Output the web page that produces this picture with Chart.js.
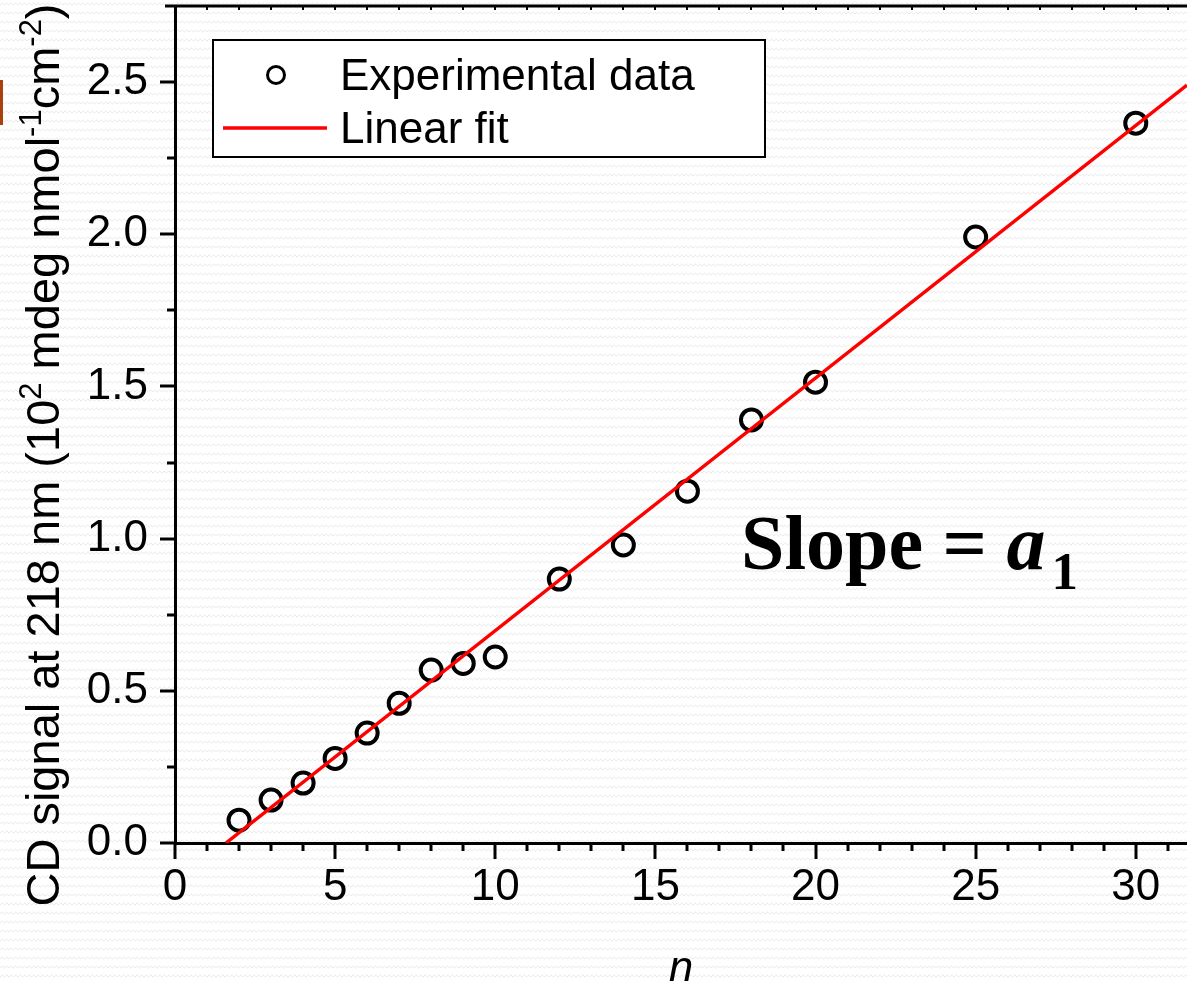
<!DOCTYPE html>
<html>
<head>
<meta charset="utf-8">
<script src="https://cdn.jsdelivr.net/npm/chart.js@4/dist/chart.umd.min.js"></script>
<style>
  html, body { margin: 0; padding: 0; }
  body {
    width: 1187px; height: 981px; overflow: hidden; position: relative;
    background-color: #fff;
    background-image: url("data:image/svg+xml;utf8,<svg xmlns='http://www.w3.org/2000/svg' width='9' height='9'><path d='M0 5 L2.25 3 L4.5 5 L6.75 3 L9 5' fill='none' stroke='%23e9e9e9' stroke-width='1'/></svg>");
  }
  #wrap { position: absolute; left: 0; top: 0; width: 1187px; height: 981px; }
  #tab { position: absolute; left: 0; top: 80px; width: 3px; height: 45px; background: #a8410c; }
</style>
</head>
<body>
<div id="tab"></div>
<div id="wrap"><canvas id="cd-chart"></canvas></div>
<script>
// values
const nValues = [2, 3, 4, 5, 6, 7, 8, 9, 10, 12, 14, 16, 18, 20, 25, 30];
const cdSignal = [0.075, 0.141, 0.197, 0.278, 0.361, 0.459, 0.568, 0.590, 0.611, 0.867, 0.979, 1.156, 1.390, 1.514, 1.991, 2.365];
const fitX = [1.59, 31.6];
const fitY = [0, 2.49];
const xTicks = [0, 5, 10, 15, 20, 25, 30];
const yTicks = [0.0, 0.5, 1.0, 1.5, 2.0, 2.5];

const sans = "'Liberation Sans', Arial, Helvetica, sans-serif";
const serif = "'Liberation Serif', 'Times New Roman', serif";

// no extra room for overhanging labels
function noPad(s) {
    s.paddingTop = 0;
    s.paddingBottom = 0;
    s.paddingLeft = 0;
    s.paddingRight = 0;
}

// minor/major tick marks, top frame line
const tickMarks = {
    id: 'tickMarks',
    afterDraw(chart) {
        const ctx = chart.ctx;
        const area = chart.chartArea;
        const xs = chart.scales.x;
        const ys = chart.scales.y;
        ctx.save();
        ctx.strokeStyle = '#000';
        ctx.lineWidth = 3;
        ctx.lineCap = 'butt';
        xs.ticks.forEach(t => {
            const px = Math.round(xs.getPixelForValue(t.value));
            const len = xTicks.includes(t.value) ? 16 : 8;
            ctx.beginPath();
            ctx.moveTo(px, area.bottom);
            ctx.lineTo(px, area.bottom + len);
            ctx.stroke();
            ctx.beginPath();
            ctx.lineWidth = 2;
            ctx.moveTo(px, area.top);
            ctx.lineTo(px, area.top + 4);
            ctx.stroke();
            ctx.lineWidth = 3;
        });
        ys.ticks.forEach(t => {
            const py = Math.round(ys.getPixelForValue(t.value));
            if (t.value > 2.7) return;
            const len = yTicks.some(v => Math.abs(v - t.value) < 1e-6) ? 15 : 8;
            ctx.beginPath();
            ctx.moveTo(area.left, py);
            ctx.lineTo(area.left - len, py);
            ctx.stroke();
        });
        // top frame
        ctx.beginPath();
        ctx.moveTo(area.left - 10, area.top);
        ctx.lineTo(area.right, area.top);
        ctx.stroke();
        ctx.restore();
    }
};

// boxed legend in the upper left corner
const boxLegend = {
    id: 'boxLegend',
    afterDraw(chart) {
        const ctx = chart.ctx;
        const area = chart.chartArea;
        const ds = chart.data.datasets;
        const bx = area.left + 38, by = area.top + 34, bw = 552, bh = 117;
        ctx.save();
        ctx.fillStyle = '#fff';
        ctx.fillRect(bx, by, bw, bh);
        ctx.strokeStyle = '#000';
        ctx.lineWidth = 2;
        ctx.strokeRect(bx, by, bw, bh);

        ctx.beginPath();
        ctx.lineWidth = 3;
        ctx.arc(bx + 63, by + 35, 8.5, 0, Math.PI * 2);
        ctx.stroke();

        ctx.beginPath();
        ctx.strokeStyle = ds[1].borderColor;
        ctx.lineWidth = 3.5;
        ctx.moveTo(bx + 10, by + 88);
        ctx.lineTo(bx + 114, by + 88);
        ctx.stroke();

        ctx.fillStyle = '#000';
        ctx.font = '44px ' + sans;
        ctx.textBaseline = 'alphabetic';
        ctx.fillText(ds[0].label, bx + 127, by + 50);
        ctx.fillText(ds[1].label, bx + 127, by + 103);
        ctx.restore();
    }
};

// rotated y title with superscripts, and the slope note
const extraText = {
    id: 'extraText',
    afterDraw(chart) {
        const ctx = chart.ctx;
        const parts = [
            ['CD signal at 218 nm (10', 0],
            ['2', 1],
            [' mdeg nmol', 0],
            ['-1', 1],
            ['cm', 0],
            ['-2', 1],
            [')', 0]
        ];
        const big = '47px ' + sans, small = '31px ' + sans;
        ctx.save();
        let total = 0;
        parts.forEach(p => { ctx.font = p[1] ? small : big; total += ctx.measureText(p[0]).width; });
        ctx.translate(59, 455);
        ctx.rotate(-Math.PI / 2);
        ctx.fillStyle = '#000';
        ctx.textBaseline = 'alphabetic';
        let x = -total / 2;
        parts.forEach(p => {
            ctx.font = p[1] ? small : big;
            ctx.fillText(p[0], x, p[1] ? -18 : 0);
            x += ctx.measureText(p[0]).width;
        });
        ctx.restore();

        ctx.save();
        ctx.fillStyle = '#000';
        ctx.textBaseline = 'alphabetic';
        let sx = 741;
        const base = 569;
        ctx.font = 'bold 78px ' + serif;
        ctx.fillText('Slope = ', sx, base);
        sx += ctx.measureText('Slope = ').width;
        ctx.font = 'italic bold 78px ' + serif;
        ctx.fillText('a', sx, base);
        sx += ctx.measureText('a').width + 6;
        ctx.font = 'bold 53px ' + serif;
        ctx.fillText('1', sx, base + 20);
        ctx.restore();
    }
};

const ctx = document.getElementById('cd-chart').getContext('2d');
new Chart(ctx, {
    type: 'scatter',
    data: {
        datasets: [{
            label: 'Experimental data',
            data: nValues.map((n, i) => ({ x: n, y: cdSignal[i] })),
            pointStyle: 'circle',
            pointRadius: 10.5,
            pointHoverRadius: 10.5,
            borderWidth: 4,
            borderColor: '#000',
            backgroundColor: 'rgba(0,0,0,0)',
            order: 2
        }, {
            label: 'Linear fit',
            data: fitX.map((x, i) => ({ x: x, y: fitY[i] })),
            showLine: true,
            pointRadius: 0,
            borderColor: '#ff0000',
            borderWidth: 3.5,
            order: 1
        }]
    },
    options: {
        responsive: true,
        maintainAspectRatio: false,
        animation: false,
        layout: { autoPadding: false, padding: { top: 6, right: 0, left: 0, bottom: 0 } },
        scales: {
            x: {
                type: 'linear',
                min: 0,
                max: 31.6,
                afterFit: s => { s.height = 138; noPad(s); },
                afterBuildTicks: s => {
                    const t = [];
                    for (let v = 0; v <= 31; v++) t.push({ value: v });
                    s.ticks = t;
                },
                ticks: {
                    autoSkip: false,
                    maxRotation: 0,
                    padding: 18,
                    color: '#000',
                    font: { family: sans, size: 44 },
                    callback: v => xTicks.includes(v) ? String(v) : ''
                },
                grid: { drawOnChartArea: false, drawTicks: false },
                border: { display: true, color: '#000', width: 3 },
                title: {
                    display: true,
                    text: 'n',
                    color: '#000',
                    font: { family: sans, size: 44, style: 'italic', lineHeight: 0.5 },
                    padding: 0
                }
            },
            y: {
                min: 0,
                max: 2.75,
                afterFit: s => { s.width = 175; noPad(s); },
                afterBuildTicks: s => {
                    const t = [];
                    for (let i = 0; i <= 11; i++) t.push({ value: i * 0.25 });
                    s.ticks = t;
                },
                ticks: {
                    autoSkip: false,
                    padding: 27,
                    color: '#000',
                    font: { family: sans, size: 44 },
                    callback: v => yTicks.some(y => Math.abs(y - v) < 1e-6) ? v.toFixed(1) : ''
                },
                grid: { drawOnChartArea: false, drawTicks: false },
                border: { display: true, color: '#000', width: 3 }
            }
        },
        plugins: {
            legend: { display: false },
            tooltip: { enabled: false }
        }
    },
    plugins: [tickMarks, boxLegend, extraText]
});
</script>
</body>
</html>
